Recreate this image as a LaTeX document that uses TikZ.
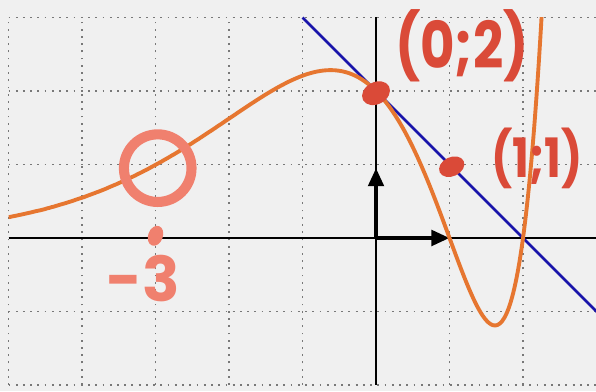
\documentclass[tikz,border=0pt]{standalone}
\usepackage{fontspec}
\newfontfamily\hand{Poppins}
\usetikzlibrary{arrows.meta}
\definecolor{bgc}{RGB}{240,240,240}
\definecolor{gridc}{RGB}{120,120,120}
\definecolor{curvec}{RGB}{230,118,48}
\definecolor{linec}{RGB}{25,20,170}
\definecolor{markred}{RGB}{218,74,56}
\definecolor{salmon}{RGB}{240,128,110}
\tikzset{
  gridline/.style={gridc, line width=0.6pt, dash pattern=on 0.7pt off 2.1pt},
  axisline/.style={black, line width=1.1pt},
  vecarrow/.style={black, line width=1.4pt, -{Triangle[length=7pt,width=6pt]}},
  curveline/.style={curvec, line width=1.5pt},
  tangent/.style={linec, line width=1pt},
  handtext/.style={markred, font=\hand\bfseries\fontsize{25}{25}\selectfont, inner sep=0pt, xscale=0.82, transform shape},
  dotmark/.style={fill=markred, draw=none},
}
\begin{document}
\begin{tikzpicture}[x=1cm,y=1cm]
\useasboundingbox (-5.116,-2.082) rectangle (2.993,3.238);
\clip (-5.116,-2.082) rectangle (2.993,3.238);
\fill[bgc] (-5.116,-2.082) rectangle (2.993,3.238);
% grid
\foreach \gx in {-5,...,3} \draw[gridline] (\gx,-2) -- (\gx,3);
\foreach \gy in {-2,...,3} \draw[gridline] (-5,\gy) -- (3,\gy);
% axes
\coordinate (O) at (0,0);
\coordinate (xl) at (-5,0);
\coordinate (xr) at (3.1,0);
\coordinate (yb) at (0,-2);
\coordinate (yt) at (0,3);
\draw[axisline] (xl) -- (xr);
\draw[axisline] (yb) -- (yt);
% tangent line y = 2 - x
\coordinate (ta) at (-1,3);
\coordinate (tb) at (3.1,-1.1);
\draw[tangent] (ta) -- (tb);
% vectors
\coordinate (X1) at (1,0);
\coordinate (Y1) at (0,0.95);
\draw[vecarrow] (O) -- (X1);
\draw[vecarrow] (O) -- (Y1);
% curve
\begin{scope}
\clip (-5,-2.1) rectangle (3.1,3);
\draw[curveline] plot[domain=-5:2.3, samples=250, smooth] (\x,{(\x*\x-3*\x+2)*exp(\x)});
\end{scope}
% annotations
\coordinate (P) at (0,1.97);
\coordinate (Q) at (1.03,0.97);
\fill[dotmark, rotate around={28:(P)}] (P) ellipse (0.2 and 0.15);
\fill[dotmark, rotate around={25:(Q)}] (Q) ellipse (0.18 and 0.13);
\node[handtext] (lp) at (1.17,2.62) {(0;2)};
\node[handtext, anchor=west, font=\hand\bfseries\fontsize{21}{21}\selectfont] (lq) at (1.56,1.08) {(1;1)};
\coordinate (C) at (-2.97,0.95);
\draw[salmon, line width=3.9pt] (C) circle (0.46);
\coordinate (tk) at (-3.0,0.03);
\fill[salmon, rotate around={-20:(tk)}] (tk) ellipse (0.1 and 0.14);
\node[salmon, font=\hand\bfseries\fontsize{24}{24}\selectfont, inner sep=0pt] (lm) at (-3.17,-0.55) {-3};
\end{tikzpicture}
\end{document}
